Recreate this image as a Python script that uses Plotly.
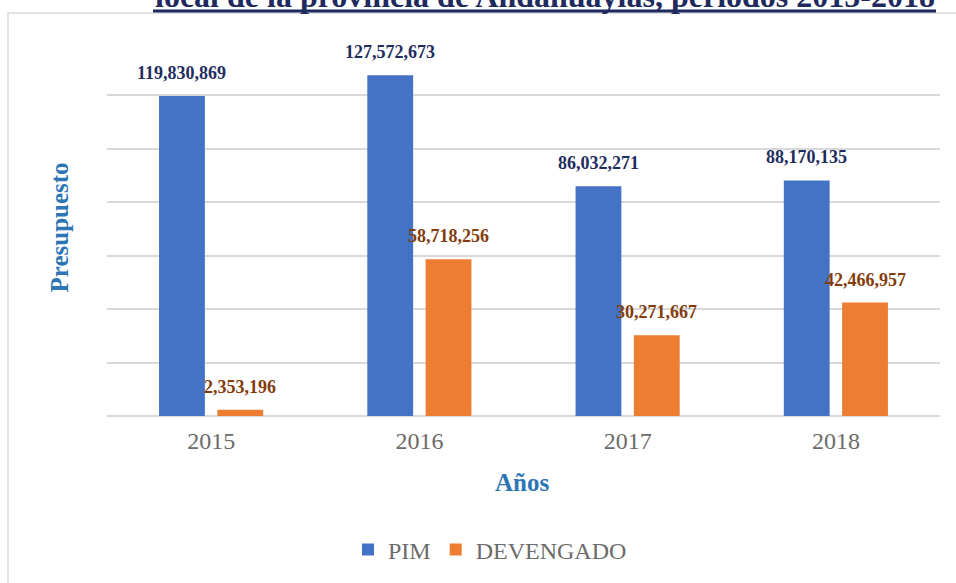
import plotly.graph_objects as go

years = ["2015", "2016", "2017", "2018"]
pim = [119830869, 127572673, 86032271, 88170135]
devengado = [2353196, 58718256, 30271667, 42466957]
series_names = ["PIM", "DEVENGADO"]

W, H = 956, 583
L, R, T, B = 107, 16, 42, 166
PW = W - L - R
PH = H - T - B

def px_x(px):
    return (px - L) / PW

def px_y(py):
    return (H - B - py) / PH

SERIF = "Liberation Serif, Times New Roman, serif"
BAR_W = 0.22
OFFS = [-0.25, 0.03]
COLORS = ["#4472C4", "#ED7D31"]
LABEL_COLORS = ["#1F2D5E", "#843C0C"]

xs = list(range(len(years)))
fig = go.Figure()
for name, vals, off, col in zip(series_names, [pim, devengado], OFFS, COLORS):
    fig.add_trace(go.Bar(
        x=xs, y=vals, name=name, width=BAR_W, offset=off,
        marker=dict(color=col, line=dict(width=0)),
        hoverinfo="x+y",
    ))

annotations = []
for vals, off, lc in zip([pim, devengado], OFFS, LABEL_COLORS):
    for i, v in zip(xs, vals):
        annotations.append(dict(
            x=i + off + BAR_W / 2, y=v, xref="x", yref="y",
            text=f"<b>{v:,}</b>", showarrow=False,
            yanchor="middle", yshift=23,
            font=dict(family=SERIF, size=18, color=lc),
        ))

# axis titles
annotations.append(dict(
    x=px_x(522), y=px_y(484), xref="paper", yref="paper",
    text="<b>Años</b>", showarrow=False, xanchor="center", yanchor="middle",
    font=dict(family=SERIF, size=25, color="#2E75B6"),
))
annotations.append(dict(
    x=px_x(60), y=px_y(228), xref="paper", yref="paper",
    text="<b>Presupuesto</b>", showarrow=False, textangle=-90,
    xanchor="center", yanchor="middle",
    font=dict(family=SERIF, size=25, color="#2E75B6"),
))
# title (cut off at top, as in the reference)
annotations.append(dict(
    x=px_x(153), y=px_y(16), xref="paper", yref="paper",
    text="<b>local de la provincia de Andahuaylas, periodos 2015-2018</b>",
    showarrow=False, xanchor="left", yanchor="bottom",
    font=dict(family=SERIF, size=32, color="#1F2A5E"),
))

shapes = [
    dict(type="rect", xref="paper", yref="paper",
         x0=px_x(8), x1=px_x(970), y0=px_y(600), y1=px_y(13),
         line=dict(color="#D9D9D9", width=1.5), fillcolor="rgba(0,0,0,0)", layer="below"),
    dict(type="line", xref="paper", yref="paper",
         x0=px_x(153), x1=px_x(936), y0=px_y(11), y1=px_y(11),
         line=dict(color="#1F2A5E", width=3)),
]

fig.update_layout(
    width=W, height=H,
    margin=dict(l=L, r=R, t=T, b=B),
    paper_bgcolor="white", plot_bgcolor="white",
    barmode="overlay",
    showlegend=True,
    legend=dict(orientation="h", x=px_x(348), xanchor="left", y=px_y(550), yanchor="middle",
                font=dict(family=SERIF, size=24, color="#6B6B6B"), itemwidth=30,
                bgcolor="rgba(0,0,0,0)"),
    annotations=annotations,
    shapes=shapes,
    xaxis=dict(range=[-0.5, 3.5], tickvals=xs, ticktext=years, showgrid=False,
               zeroline=False, showline=False, ticks="", ticklabelstandoff=8,
               tickfont=dict(family=SERIF, size=24, color="#6B6B6B")),
    yaxis=dict(range=[0, 140e6], dtick=20e6, showticklabels=False, showgrid=True,
               gridcolor="#D9D9D9", gridwidth=1.5, zeroline=True, zerolinecolor="#D9D9D9",
               zerolinewidth=1.5, ticks=""),
)

fig.write_html("out.html", config={"displayModeBar": False},
               post_script="document.body.style.margin='0px';")
